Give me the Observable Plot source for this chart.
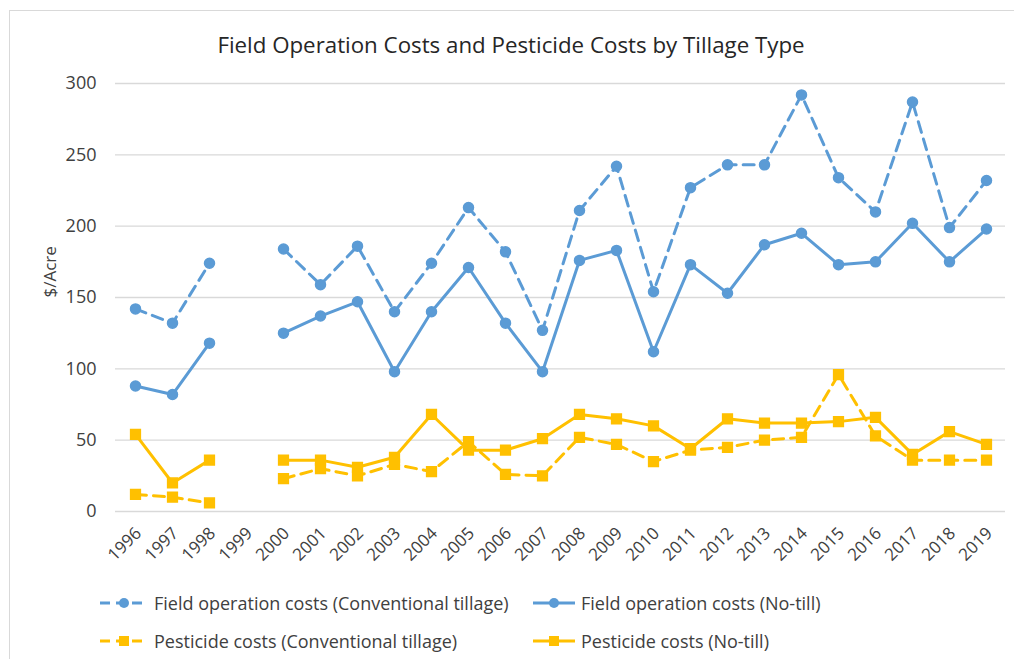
<!DOCTYPE html>
<html><head><meta charset="utf-8">
<script src="https://cdn.jsdelivr.net/npm/d3@7"></script>
<script src="https://cdn.jsdelivr.net/npm/@observablehq/plot@0.6"></script>
<style>
body{margin:0;background:#fff;font-family:"Open Sans",sans-serif;}
#wrap{position:relative;width:1014px;height:659px;overflow:hidden;background:#fff;}
#frame{position:absolute;left:9px;top:10px;width:1020px;height:700px;border-left:1.5px solid #d9d9d9;border-top:1.5px solid #d9d9d9;}
#title{position:absolute;top:29px;left:4px;width:1014px;text-align:center;font-size:22.3px;color:#262626;}
#chart{position:absolute;left:0;top:0;}
.leg{position:absolute;display:flex;align-items:center;font-size:18px;color:#404040;white-space:nowrap;}
.leg svg{margin-right:6px;}
</style></head>
<body>
<div id="wrap">
<div id="frame"></div>
<div id="chart"></div>
<div id="title">Field Operation Costs and Pesticide Costs by Tillage Type</div>
<div id="legend"></div>
</div>
<script>
const years = ["1996","1997","1998","1999","2000","2001","2002","2003","2004","2005","2006","2007","2008","2009","2010","2011","2012","2013","2014","2015","2016","2017","2018","2019"];
const fieldConv   = [142,132,174,null,184,159,186,140,174,213,182,127,211,242,154,227,243,243,292,234,210,287,199,232];
const fieldNoTill = [88,82,118,null,125,137,147,98,140,171,132,98,176,183,112,173,153,187,195,173,175,202,175,198];
const pestConv    = [12,10,6,null,23,30,25,33,28,49,26,25,52,47,35,43,45,50,52,96,53,36,36,36];
const pestNoTill  = [54,20,36,null,36,36,31,38,68,43,43,51,68,65,60,44,65,62,62,63,66,40,56,47];
const seriesNames = ["Field operation costs (Conventional tillage)","Field operation costs (No-till)","Pesticide costs (Conventional tillage)","Pesticide costs (No-till)"];
const yTicks = [0,50,100,150,200,250,300];
const yLabel = "$/Acre";

const blue = "#5B9BD5", gold = "#FFC000";
const specs = [
  {vals: fieldConv,   color: blue, dash: "11,7", symbol: "circle", r: 5},
  {vals: fieldNoTill, color: blue, dash: null,   symbol: "circle", r: 5},
  {vals: pestConv,    color: gold, dash: "11,7", symbol: "square", r: 5.5},
  {vals: pestNoTill,  color: gold, dash: null,   symbol: "square", r: 5.5}
];

const marks = [
  Plot.gridY(yTicks, {stroke: "#d9d9d9", strokeOpacity: 1, strokeWidth: 1.4}),
  Plot.axisY(yTicks, {tickSize: 0, tickPadding: 19, fontSize: 18, fill: "#404040", label: null}),
  Plot.axisX(years, {tickSize: 0, tickRotate: -45, tickPadding: 8, dy: 11, dx: 3, fontSize: 17, fill: "#404040", label: null}),
  Plot.text([yLabel], {frameAnchor: "left", dx: -65, rotate: -90, fontSize: 17, fill: "#404040"})
];
specs.forEach((s, i) => {
  const data = years.map((yr, j) => ({year: yr, value: s.vals[j], series: seriesNames[i]}));
  marks.push(Plot.line(data, {x: "year", y: "value", stroke: s.color, strokeWidth: 3, strokeDasharray: s.dash || undefined, curve: "linear"}));
  marks.push(Plot.dot(data.filter(d => d.value != null), {x: "year", y: "value", fill: s.color, stroke: s.color, r: s.r, symbol: s.symbol}));
});

const chart = Plot.plot({
  width: 1014,
  height: 590,
  marginLeft: 115,
  marginRight: 9,
  marginTop: 83,
  marginBottom: 79,
  style: {fontFamily: "Open Sans", color: "#404040", background: "transparent", overflow: "visible"},
  x: {type: "point", domain: years, padding: 0.5},
  y: {domain: [0, 300]},
  marks
});
document.getElementById("chart").appendChild(chart);

// legend
const legPos = [
  {x: 100, y: 603, w: 48}, {x: 533, y: 603, w: 42},
  {x: 100, y: 641, w: 48}, {x: 533, y: 641, w: 42}
];
const legend = document.getElementById("legend");
specs.forEach((s, i) => {
  const p = legPos[i];
  const div = document.createElement("div");
  div.className = "leg";
  div.style.left = p.x + "px";
  div.style.top = (p.y - 12) + "px";
  const w = p.w, h = 24, cy = h / 2, cx = w / 2;
  const marker = s.symbol === "circle"
    ? `<circle cx="${cx}" cy="${cy}" r="5" fill="${s.color}"/>`
    : `<rect x="${cx-5}" y="${cy-5}" width="10" height="10" fill="${s.color}"/>`;
  div.innerHTML = `<svg width="${w}" height="${h}"><line x1="0" x2="${w}" y1="${cy}" y2="${cy}" stroke="${s.color}" stroke-width="3" ${s.dash ? `stroke-dasharray="10,6"` : ""}/>${marker}</svg><span>${seriesNames[i]}</span>`;
  legend.appendChild(div);
});
</script>
</body></html>
